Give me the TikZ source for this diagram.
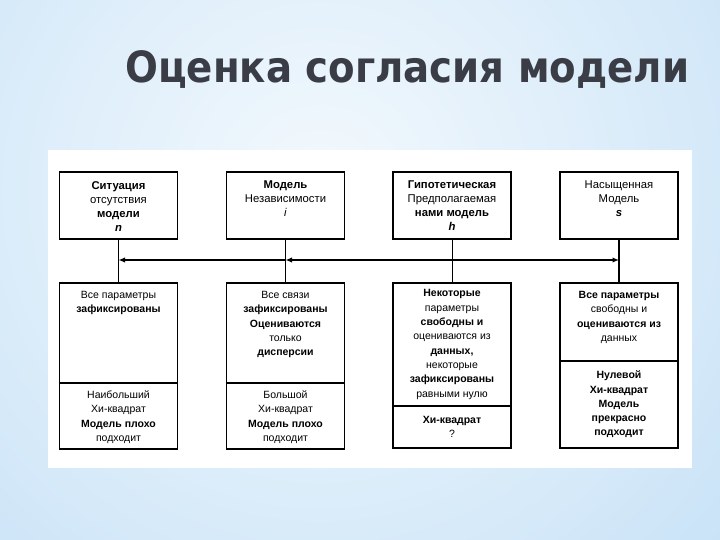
\documentclass[tikz,border=0pt]{standalone}
\usepackage{fontspec}
\setmainfont{Liberation Sans}
\newfontfamily\titlefont{DejaVu Sans Condensed}
\usetikzlibrary{arrows.meta}
\definecolor{bgblue}{RGB}{166,208,242}
\definecolor{bglight}{RGB}{243,249,253}
\definecolor{titlegray}{RGB}{58,61,69}
\tikzset{
  box/.style={draw=black, line width=1.7pt, fill=white, minimum width=118pt, inner sep=0pt},
  txt/.style={font=\fontsize{10.5}{14.3}\selectfont, align=center, inner sep=0pt, text=black},
  toptxt/.style={font=\fontsize{11.3}{14}\selectfont, align=center, inner sep=0pt, text=black, anchor=north},
  conthick/.style={line width=1.9pt},
  conthin/.style={line width=0.9pt},
  arr/.style={line width=1.3pt, -{Latex[length=6.5pt,width=5.5pt]}},
  divider/.style={line width=1.1pt},
}
\begin{document}
\begin{tikzpicture}[x=1pt,y=-1pt]
\useasboundingbox (0,0) rectangle (720,540);
% background
\fill[bgblue] (0,0) rectangle (720,540);
\begin{scope}
  \clip (0,0) rectangle (720,540);
  \shade[inner color=bglight, outer color=bgblue] (320,190) circle [radius=1000pt];
\end{scope}
% title
\node[font=\titlefont\bfseries\fontsize{43}{50}\selectfont, text=titlegray, anchor=base west, inner sep=0pt] (title) at (125,83) {Оценка согласия модели};
% panel
\fill[white] (48,150) rectangle (692,468);
% top boxes
\node[box, minimum height=67pt] (t1) at (118.5,205.5) {};
\node[box, minimum height=67pt] (t2) at (285.5,205.5) {};
\node[box, minimum height=67pt] (t3) at (452,205.5) {};
\node[box, minimum height=67pt] (t4) at (619,205.5) {};
\node[toptxt] (t1x) at (118.5,181) {{\bfseries Ситуация}\\отсутствия\\{\bfseries модели}\\{\bfseries\itshape n}};
\node[toptxt] (t2x) at (285.5,181) {{\bfseries Модель}\\Независимости\\{\itshape i}};
\node[toptxt] (t3x) at (452,181) {{\bfseries Гипотетическая}\\Предполагаемая\\{\bfseries нами модель}\\{\bfseries\itshape h}};
\node[toptxt] (t4x) at (619,181) {Насыщенная\\Модель\\{\bfseries\itshape s}};
% bottom boxes
\node[box, minimum height=166pt] (b1) at (118.5,366) {};
\node[box, minimum height=166pt] (b2) at (285.5,366) {};
\node[box, minimum height=165pt] (b3) at (452,365.5) {};
\node[box, minimum height=165pt] (b4) at (619,365.5) {};
% dividers
\draw[divider] (b1.west |- 0,383) -- (b1.east |- 0,383);
\draw[divider] (b2.west |- 0,383) -- (b2.east |- 0,383);
\draw[divider] (b3.west |- 0,406) -- (b3.east |- 0,406);
\draw[divider] (b4.west |- 0,361) -- (b4.east |- 0,361);
% bottom texts
\node[txt, anchor=north] (b1u) at (118.5,291) {Все параметры\\{\bfseries зафиксированы}};
\node[txt] (b1l) at (118.5,417) {Наибольший\\Хи-квадрат\\{\bfseries Модель плохо}\\подходит};
\node[txt, anchor=north] (b2u) at (285.5,291) {Все связи\\{\bfseries зафиксированы}\\{\bfseries Оцениваются}\\только\\{\bfseries дисперсии}};
\node[txt] (b2l) at (285.5,417) {Большой\\Хи-квадрат\\{\bfseries Модель плохо}\\подходит};
\node[txt, anchor=north] (b3u) at (452,289.5) {{\bfseries Некоторые}\\параметры\\{\bfseries свободны и}\\оцениваются из\\{\bfseries данных,}\\некоторые\\{\bfseries зафиксированы}\\равными нулю};
\node[txt] (b3l) at (452,427) {{\bfseries Хи-квадрат}\\?};
\node[txt, anchor=north] (b4u) at (619,291) {{\bfseries Все параметры}\\свободны и\\{\bfseries оцениваются из}\\данных};
\node[txt] (b4l) at (619,404.5) {{\bfseries Нулевой}\\{\bfseries Хи-квадрат}\\{\bfseries Модель}\\{\bfseries прекрасно}\\{\bfseries подходит}};
% connectors
\draw[conthick] (t1.south) -- (b1.north);
\draw[conthin] (t2.south) -- (b2.north);
\draw[conthin] (t3.south) -- (b3.north);
\draw[conthick] (t4.south) -- (b4.north);
\coordinate (j1) at (t1.south |- 0,260);
\coordinate (j2) at (t2.south |- 0,260);
\coordinate (j3) at (t3.south |- 0,260);
\coordinate (j4) at (t4.south |- 0,260);
\draw[arr] (j2) -- (j1);
\draw[arr] (j3) -- (j2);
\draw[arr] (j3) -- (j4);
\end{tikzpicture}
\end{document}
